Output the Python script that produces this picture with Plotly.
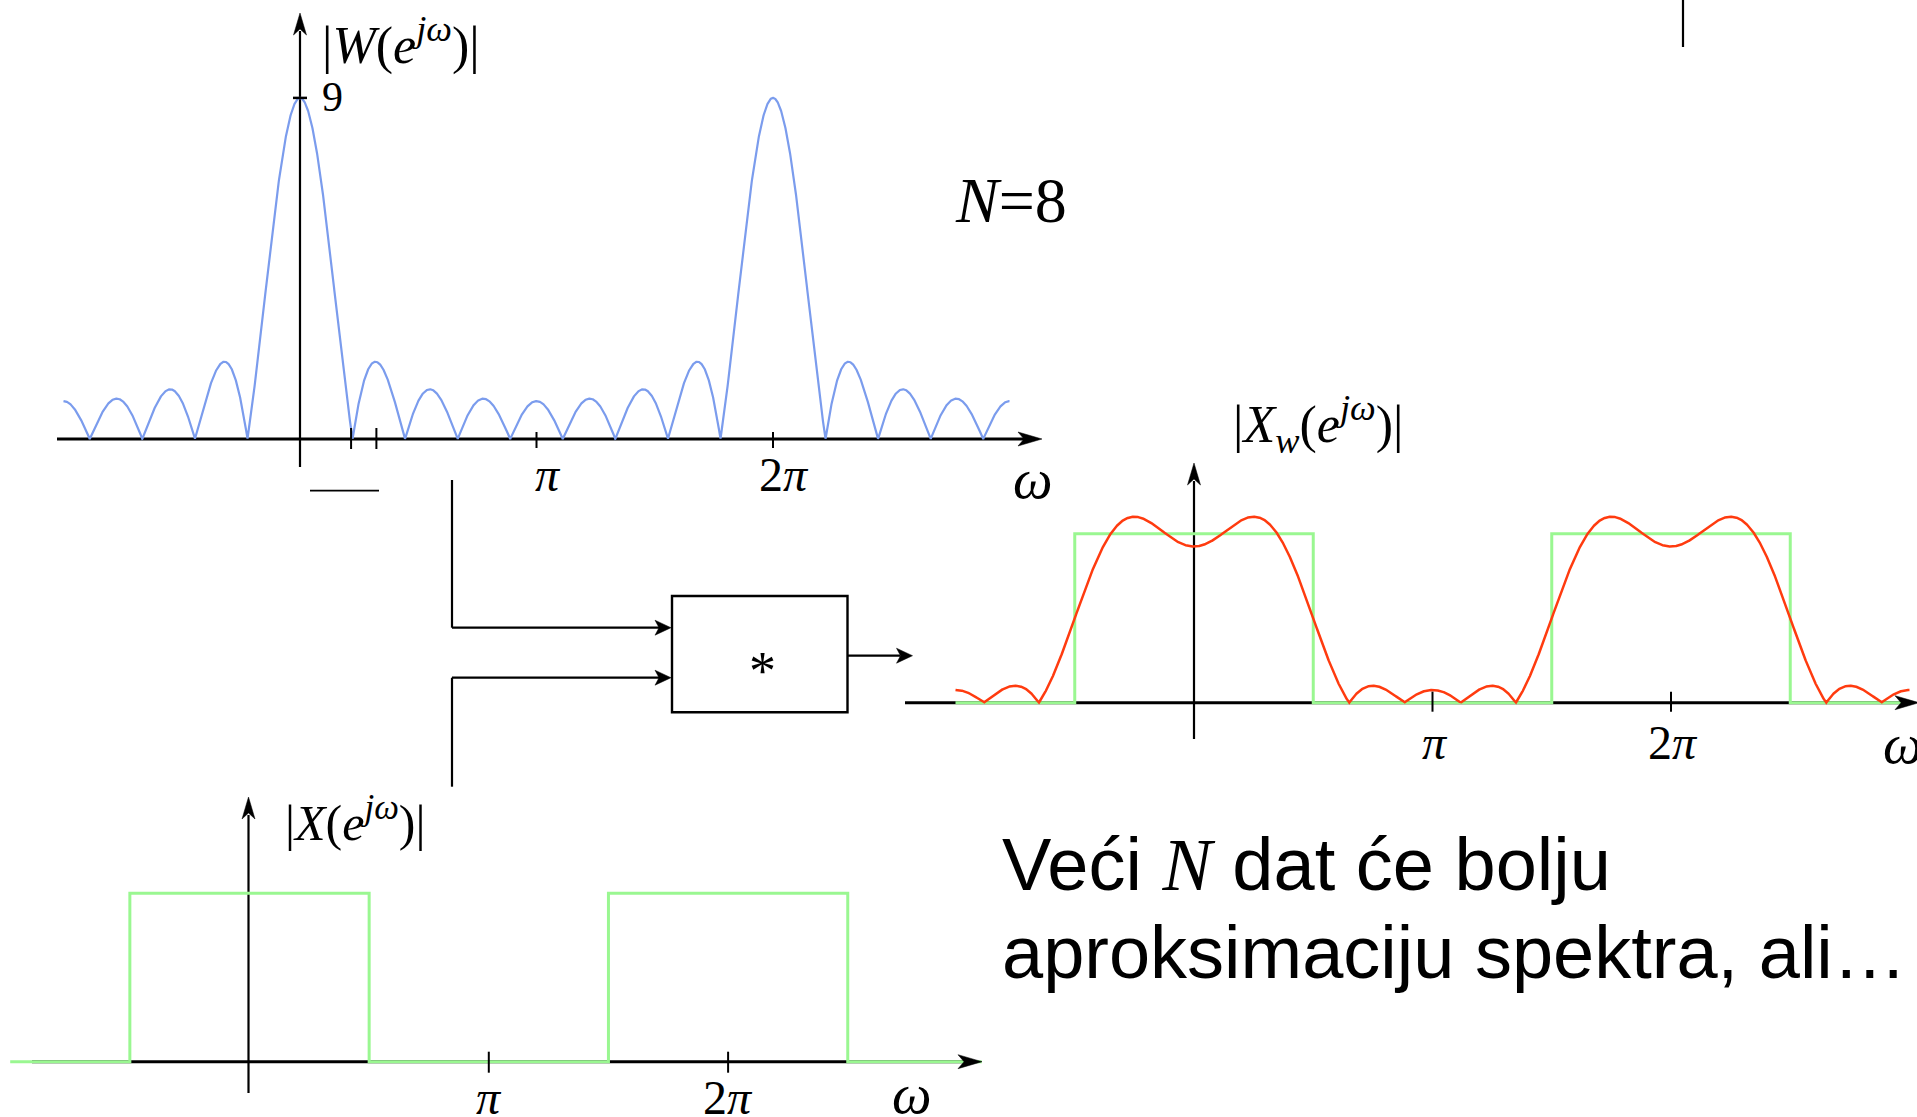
import numpy as np
import plotly.graph_objects as go

FIG_W, FIG_H = 1917, 1117
SERIF = "Liberation Serif"
SANS = "Liberation Sans"

# ---- data -------------------------------------------------------------
# rectangular window w[n], n = 0..N
N = 8
window = [1, 1, 1, 1, 1, 1, 1, 1, 1]

# ideal low-pass spectrum |X(e^jw)|: breakpoints (multiples of pi) and levels
lp_cutoff = 0.5
x_break = [-1.0, -0.5, -0.5, 0.5, 0.5, 1.5, 1.5, 2.5, 2.5, 3.0]
x_level = [0, 0, 1, 1, 0, 0, 1, 1, 0, 0]

peak_value = 9
tick_mult = [1, 2]
tick_text = ["<i>π</i>", "2<i>π</i>"]
extra_ticks_W = [0.216, 0.323]

# ---- spectra ------------------------------------------------------------
omega = np.linspace(-np.pi, 3 * np.pi, 4001)
n = np.arange(len(window))
w = np.array(window, dtype=float)
E = np.exp(-1j * np.outer(omega, n))
W_mag = np.abs(E @ w)

m = n - N / 2
wc = lp_cutoff * np.pi
safe_m = np.where(m == 0, 1.0, m)
h = np.where(m == 0, wc / np.pi, np.sin(wc * safe_m) / (np.pi * safe_m))
Xw_mag = np.abs(E @ (h * w))

x_step = np.array(x_break) * np.pi

# ---- panel geometry (origin and scale in pixels) -----------------------
panels = [
    dict(ox=300.0, oy=439.0, sx=236.5, sy=37.9),     # |W|
    dict(ox=1194.0, oy=702.7, sx=238.5, sy=169.0),   # |Xw|
    dict(ox=249.5, oy=1061.7, sx=239.3, sy=168.4),   # |X|
]


def px(p, om):
    return p["ox"] + om / np.pi * p["sx"]


def py(p, v):
    return p["oy"] - v * p["sy"]


BLUE = "#7b9ced"
RED = "#ff3b0f"
GREEN = "#9af791"

fig = go.Figure()

fig.add_trace(go.Scatter(x=omega, y=W_mag, mode="lines",
                         line=dict(color=BLUE, width=2.2), xaxis="x", yaxis="y",
                         hoverinfo="skip"))
fig.add_trace(go.Scatter(x=x_step, y=x_level, mode="lines",
                         line=dict(color=GREEN, width=3), xaxis="x2", yaxis="y2",
                         hoverinfo="skip"))
fig.add_trace(go.Scatter(x=omega, y=Xw_mag, mode="lines",
                         line=dict(color=RED, width=2.5), xaxis="x2", yaxis="y2",
                         hoverinfo="skip"))
x3_break = list(x_step[:-1]) + [3.06 * np.pi]
fig.add_trace(go.Scatter(x=x3_break, y=x_level, mode="lines",
                         line=dict(color=GREEN, width=3), xaxis="x3", yaxis="y3",
                         hoverinfo="skip"))
fig.add_trace(go.Scatter(x=[], y=[], xaxis="x4", yaxis="y4", showlegend=False))

layout_axes = {}
for i, p in enumerate(panels, start=1):
    sfx = "" if i == 1 else str(i)
    xr = [(0 - p["ox"]) / p["sx"] * np.pi, (FIG_W - p["ox"]) / p["sx"] * np.pi]
    yr = [(p["oy"] - FIG_H) / p["sy"], p["oy"] / p["sy"]]
    xa = dict(domain=[0, 1], range=xr, visible=False, fixedrange=True,
              anchor="y" + sfx)
    ya = dict(domain=[0, 1], range=yr, visible=False, fixedrange=True,
              anchor="x" + sfx)
    if i > 1:
        xa["overlaying"] = "x"
        ya["overlaying"] = "y"
    layout_axes["xaxis" + sfx] = xa
    layout_axes["yaxis" + sfx] = ya
layout_axes["xaxis4"] = dict(domain=[0, 1], range=[0, FIG_W], visible=False,
                             fixedrange=True, anchor="y4", overlaying="x")
layout_axes["yaxis4"] = dict(domain=[0, 1], range=[FIG_H, 0], visible=False,
                             fixedrange=True, anchor="x4", overlaying="y")

shapes = []
annotations = []


def seg(x0, y0, x1, y1, width=2.2, layer="above", color="black"):
    shapes.append(dict(type="line", x0=x0, y0=y0, x1=x1, y1=y1, xref="x4",
                       yref="y4", layer=layer,
                       line=dict(color=color, width=width)))


def head(tx, ty, direction, L=22, H=7, d=6):
    if direction == "r":
        pts = [(tx, ty), (tx - L, ty - H), (tx - L + d, ty), (tx - L, ty + H)]
    else:
        pts = [(tx, ty), (tx - H, ty + L), (tx, ty + L - d), (tx + H, ty + L)]
    path = "M" + " L".join(f"{a:.1f},{b:.1f}" for a, b in pts) + " Z"
    shapes.append(dict(type="path", path=path, xref="x4", yref="y4",
                       fillcolor="black", line=dict(color="black", width=0.5)))


def text(x, y, t, size, family=SERIF, xanchor="center", yanchor="middle"):
    annotations.append(dict(x=x, y=y, xref="x4", yref="y4", text=t,
                            showarrow=False, xanchor=xanchor, yanchor=yanchor,
                            font=dict(family=family, size=size, color="black")))


# ---- |W(e^jw)| panel ------------------------------------------------------
pW = panels[0]
seg(57, pW["oy"], 1042 - 18, pW["oy"], width=3, layer="below")
head(1042, pW["oy"], "r", L=24, H=7, d=6)
seg(pW["ox"], 467, pW["ox"], 13 + 18, width=2.2, layer="below")
head(pW["ox"], 13, "u", L=22, H=6.5, d=6)
seg(pW["ox"] - 7, py(pW, peak_value), pW["ox"] + 7, py(pW, peak_value), width=2.5)
text(320, 97, str(peak_value), 42, xanchor="left")
for k, t in zip(tick_mult, tick_text):
    xk = px(pW, k * np.pi)
    seg(xk, pW["oy"] - 7, xk, pW["oy"] + 9, width=2)
    text(xk + 11, 474, t, 48)
for e in extra_ticks_W:
    xe = px(pW, e * np.pi)
    seg(xe, pW["oy"] - 11, xe, pW["oy"] + 10, width=2)
seg(310, 490.7, 379, 490.7, width=1.8)
text(1033, 479, "<i>ω</i>", 56)
text(401, 42, "|<i>W</i>(<i>e</i><sup><i>jω</i></sup>)|", 52)

# ---- |Xw(e^jw)| panel -------------------------------------------------------
pXw = panels[1]
seg(905, pXw["oy"], 1919 - 18, pXw["oy"], width=3, layer="below")
head(1919, pXw["oy"], "r", L=24, H=7, d=6)
seg(pXw["ox"], 739, pXw["ox"], 463 + 18, width=2.2, layer="below")
head(pXw["ox"], 463, "u", L=22, H=6.5, d=6)
for k, t in zip(tick_mult, tick_text):
    xk = px(pXw, k * np.pi)
    seg(xk, pXw["oy"] - 11, xk, pXw["oy"] + 9, width=2)
    text(xk + 2, 742, t, 48)
text(1903, 744, "<i>ω</i>", 56)
text(1318, 424, "|<i>X</i><sub><i>w</i></sub>(<i>e</i><sup><i>jω</i></sup>)|", 52)

# ---- |X(e^jw)| panel ------------------------------------------------------
pX = panels[2]
seg(32, pX["oy"], 982 - 18, pX["oy"], width=3, layer="below")
head(982, pX["oy"], "r", L=24, H=7, d=6)
seg(pX["ox"] - 1, 1093, pX["ox"] - 1, 797 + 18, width=2.2, layer="below")
head(pX["ox"] - 1, 797, "u", L=22, H=6.5, d=6)
for k, t in zip(tick_mult, tick_text):
    xk = px(pX, k * np.pi)
    seg(xk, pX["oy"] - 10, xk, pX["oy"] + 11, width=2)
    text(xk, 1097, t, 48)
text(912, 1094, "<i>ω</i>", 56)
text(355, 819, "|<i>X</i>(<i>e</i><sup><i>jω</i></sup>)|", 50)

# ---- convolution block ----------------------------------------------------
seg(452, 480, 452, 627.7)
seg(452, 627.7, 671 - 12, 627.7)
head(671, 627.7, "r", L=16, H=7.5, d=4)
seg(452, 786.7, 452, 677.7)
seg(452, 677.7, 671 - 12, 677.7)
head(671, 677.7, "r", L=16, H=7.5, d=4)
shapes.append(dict(type="rect", x0=672, y0=596, x1=847.5, y1=712.3, xref="x4",
                   yref="y4", line=dict(color="black", width=2.4)))
text(762, 671, "*", 54)
seg(847.5, 655.7, 912.5 - 12, 655.7)
head(912.5, 655.7, "r", L=16, H=7.5, d=4)
seg(1683, 0, 1683, 47)

# ---- annotations ------------------------------------------------------------
text(953, 200, f"<i>N</i>={N}", 64, xanchor="left")
text(1000, 864, f"Veći <span style='font-family:{SERIF}'><i>N</i></span> dat će bolju",
     74, family=SANS, xanchor="left")
text(1000, 952, "aproksimaciju spektra, ali…", 74, family=SANS, xanchor="left")

fig.update_layout(
    width=FIG_W, height=FIG_H,
    margin=dict(l=0, r=0, t=0, b=0),
    paper_bgcolor="white", plot_bgcolor="rgba(0,0,0,0)",
    showlegend=False,
    shapes=shapes, annotations=annotations,
    **layout_axes,
)

fig.write_html("out.html", config={"displayModeBar": False, "staticPlot": True})
